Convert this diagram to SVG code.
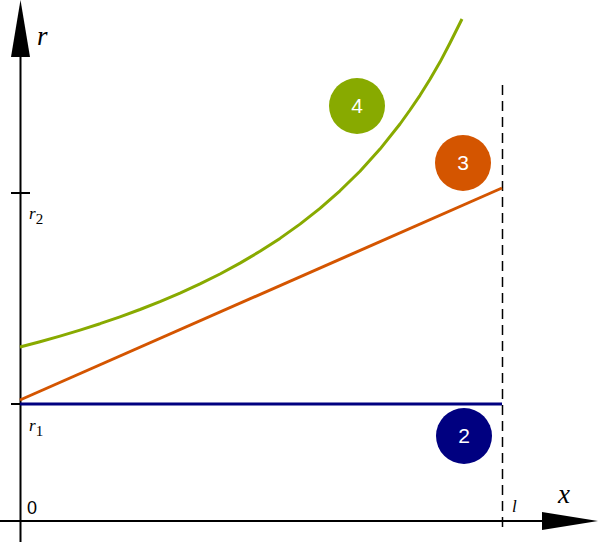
<svg xmlns="http://www.w3.org/2000/svg" width="600" height="542" viewBox="0 0 600 542">
<style>
.axis{stroke:#000;stroke-width:2;fill:none}
.curve{fill:none;stroke-width:3;stroke-linejoin:round;stroke-linecap:butt}
.it{font-family:"Liberation Serif",serif;font-style:italic;fill:#000}
.num{font-family:"Liberation Sans",Arial,sans-serif;fill:#fff;font-size:21px;text-anchor:middle}
</style>
<rect width="600" height="542" fill="#fff"/>
<g id="axes">
<line class="axis" x1="20.5" y1="50" x2="20.5" y2="542"/>
<polygon points="20.5,0 11,57 30,57" fill="#000"/>
<line class="axis" x1="0" y1="521" x2="548" y2="521"/>
<polygon points="598,521 542,512 542,530" fill="#000"/>
<line class="axis" x1="11" y1="193" x2="30" y2="193"/>
<line class="axis" x1="11" y1="404" x2="30" y2="404"/>
<line x1="502.5" y1="85" x2="502.5" y2="530" stroke="#000" stroke-width="1.5" stroke-dasharray="10,6"/>
<text class="it" x="37" y="45" font-size="27">r</text>
<text class="it" x="29" y="219" font-size="17">r<tspan font-style="normal" font-size="15" dy="5">2</tspan></text>
<text class="it" x="29" y="431" font-size="17">r<tspan font-style="normal" font-size="15" dy="5">1</tspan></text>
<text x="27" y="514" font-family="Liberation Sans,Arial,sans-serif" font-size="18" fill="#000">0</text>
<text class="it" x="558" y="503" font-size="27">x</text>
<text class="it" x="512" y="512" font-size="17">l</text>
</g>
<g id="connectors">
<line class="curve" x1="20" y1="404" x2="502" y2="404" stroke="#000080"/>
<line class="curve" x1="20" y1="400" x2="502" y2="188" stroke="#d45500"/>
<path class="curve" stroke="#88aa00" d="M20,347 L40,341.7 L60,336.1 L80,330.1 L100,323.7 L120,316.8 L140,309.5 L160,301.6 L180,293.1 L200,283.9 L220,274 L240,263.1 L260,251.3 L280,238.4 L300,224.1 L320,208.4 L340,190.8 L360,171.2 L380,149.1 L400,124 L410,110 L420,95.3 L430,79.2 L440,62.1 L450,43 L462,19"/>
</g>
<g id="node4">
<circle cx="357" cy="106" r="28" fill="#88aa00"/>
<text class="num" x="357" y="113">4</text>
</g>
<g id="node3">
<circle cx="463" cy="163" r="28" fill="#d45500"/>
<text class="num" x="463" y="170">3</text>
</g>
<g id="node2">
<circle cx="464" cy="436" r="28" fill="#000080"/>
<text class="num" x="464" y="443">2</text>
</g>
</svg>
